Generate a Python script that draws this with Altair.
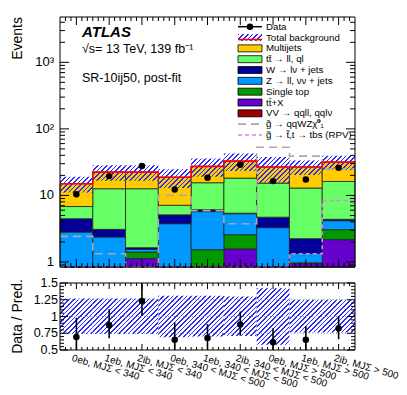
import numpy as np
import pandas as pd
import altair as alt

# ---------------- data ----------------
categories = ["0eb, MJΣ < 340", "1eb, MJΣ < 340", "2ib, MJΣ < 340",
              "0eb, 340 < MJΣ < 500", "1eb, 340 < MJΣ < 500", "2ib, 340 < MJΣ < 500",
              "0eb, MJΣ > 500", "1eb, MJΣ > 500", "2ib, MJΣ > 500"]
# stacked backgrounds, bottom -> top
vv        = [0.10, 0.05, 0.30, 0.10, 0.15, 0.30, 0.10, 0.20, 0.30]
ttx       = [0.20, 0.20, 0.82, 0.20, 0.45, 1.26, 0.25, 0.73, 1.86]
singletop = [0.30, 0.30, 0.28, 0.30, 0.92, 1.00, 0.25, 0.03, 0.89]
zjets     = [2.20, 1.81, 0.14, 3.15, 4.18, 2.74, 2.67, 0.37, 1.11]
wjets     = [1.66, 0.72, 0.09, 1.35, 0.40, 0.10, 1.43, 0.90, 0.20]
ttbar     = [2.34, 9.52, 10.97, 2.00, 9.40, 12.80, 10.60, 10.67, 11.84]
multijets = [8.20, 9.80, 9.80, 11.70, 11.80, 14.60, 11.40, 13.80, 15.40]
data_obs  = [10.4, 19.5, 27.6, 12.3, 18.5, 28.9, 16.4, 17.4, 26.1]
sig_qqwz  = [2.42, 1.33, 0.50, 10.0, 5.9, 3.75, 53.0, 39.0, 25.0]
sig_rpv   = [0.30, 0.30, 0.30, 0.30, 0.30, 0.30, 0.30, 1.33, 8.4]
unc_lo    = [0.74, 0.74, 0.74, 0.69, 0.70, 0.71, 0.58, 0.76, 0.76]
unc_hi    = [1.27, 1.27, 1.27, 1.31, 1.31, 1.30, 1.42, 1.25, 1.25]
ratio_err_lo = [0.42, 0.675, 1.01, 0.42, 0.45, 0.715, 0.40, 0.45, 0.66]
ratio_err_hi = [0.98, 1.11, 1.55, 0.91, 0.885, 1.075, 0.825, 0.86, 1.01]
y_tick_values = [1, 10, 100, 1000]
y_tick_labels = ["1", "10", "10²", "10³"]
r_tick_values = [0.5, 0.75, 1.0, 1.25, 1.5]
r_tick_labels = ["0.5", "0.75", "1", "1.25", "1.5"]

proc_names  = ["VV", "ttX", "Single top", "Z", "W", "ttbar", "Multijets"]
proc_values = [vv, ttx, singletop, zjets, wjets, ttbar, multijets]
proc_colors = ["#990000", "#6600cc", "#009900", "#0099ff", "#000099", "#66ff66", "#ffcc00"]

# ---------------- layout constants ----------------
W, H1, H2, GAP = 295, 250, 67, 16
RT = H1 + GAP          # ratio panel top (px)
RB = RT + H2           # ratio panel bottom (px)
NB = len(categories)
YMIN, YMAX = 0.84, 4800
FONT = "Liberation Sans"
HATCH = "#2a2aff"

x_scale = alt.Scale(domain=[0, NB], nice=False, zero=False, range=[0, W])
y_scale = alt.Scale(type="log", domain=[YMIN, YMAX], nice=False, range=[H1, 0], clamp=True)
r_scale = alt.Scale(domain=[0.5, 1.5], nice=False, zero=False, range=[RB, RT], clamp=True)
bin_px = W / NB
dec_px = H1 / np.log10(YMAX / YMIN)


def hatch(w, h, color=HATCH, spacing=3.3, frac=0.36):
    k = (w + h) / (w * w + h * h)
    n = max(1.0, (w + h) / (np.sqrt(2) * spacing))
    clear = "rgba(255,255,255,0)"
    stops = []
    j = 0
    while j / n < 1:
        a = j / n
        b = min(1.0, (j + frac) / n)
        c = min(1.0, (j + 1) / n)
        stops += [(a, color), (b, color), (b, clear), (c, clear)]
        j += 1
    return alt.LinearGradient(
        gradient="linear",
        stops=[alt.GradientStop(offset=round(float(o), 5), color=col) for o, col in stops],
        x1=0, y1=0, x2=float(w * k), y2=float(h * k))


# ---------------- tables ----------------
totals = np.sum(np.array(proc_values), axis=0)
rows = []
cum = np.full(NB, 0.01)
for name, vals, col in zip(proc_names, proc_values, proc_colors):
    top = cum + np.array(vals)
    for i in range(NB):
        rows.append(dict(x=i, x2=i + 1, y=cum[i], y2=top[i], color=col))
    cum = top
stack_df = pd.DataFrame(rows)

def step_df(vals):
    return pd.DataFrame({"x": list(range(NB + 1)), "y": list(vals) + [vals[-1]]})

pts_df = pd.DataFrame({"x": np.arange(NB) + 0.5, "y": data_obs,
                       "r": np.array(data_obs) / totals,
                       "lo": ratio_err_lo, "hi": ratio_err_hi})

X = lambda f="x": alt.X(f + ":Q", scale=x_scale, axis=None)
Y = lambda f="y": alt.Y(f + ":Q", scale=y_scale, axis=None)
R = lambda f="y": alt.Y(f + ":Q", scale=r_scale, axis=None)

# ---------------- main panel ----------------
stack = alt.Chart(stack_df).mark_rect(stroke="#222222", strokeWidth=0.8).encode(
    x=X(), x2="x2:Q", y=Y(), y2="y2:Q", color=alt.Color("color:N", scale=None))

main_layers = [stack]
for i in range(NB):
    lo, hi = totals[i] * unc_lo[i], totals[i] * unc_hi[i]
    hpx = dec_px * np.log10(hi / lo)
    d = pd.DataFrame({"x": [i], "x2": [i + 1], "y": [lo], "y2": [hi]})
    main_layers.append(alt.Chart(d).mark_rect(fill=hatch(bin_px, hpx)).encode(
        x=X(), x2="x2:Q", y=Y(), y2="y2:Q"))

def step_line(vals, color, width, dash=None):
    kw = dict(interpolate="step-after", color=color, strokeWidth=width)
    if dash:
        kw["strokeDash"] = dash
    return alt.Chart(step_df(vals)).mark_line(**kw).encode(x=X(), y=Y())

main_layers.append(step_line(sig_rpv, "#ee77ee", 1.6, [4, 3]))
main_layers.append(step_line(sig_qqwz, "#aaaaaa", 1.6, [8, 5]))
main_layers.append(step_line(list(totals), "#ff0000", 1.6))
main_layers.append(alt.Chart(pts_df).mark_circle(size=42, color="black", opacity=1).encode(
    x=X(), y=Y()))

# inward ticks
ymin_t = [0.9] + [m * 10 ** e for e in range(4) for m in range(2, 10) if m * 10 ** e < YMAX]
xt = [j / 6 for j in range(1, NB * 6)]
xmaj = [v for j, v in enumerate(xt, start=1) if j % 6 == 3]
xmin_t = [v for j, v in enumerate(xt, start=1) if j % 6 != 3]

def yticks(vals, length, enc):
    d = pd.DataFrame({"y": vals})
    base = alt.Chart(d).mark_rule(color="black", strokeWidth=1)
    return [base.encode(y=enc(), x=alt.value(0), x2=alt.value(length)),
            base.encode(y=enc(), x=alt.value(W - length), x2=alt.value(W))]

def xticks(vals, length, ptop, pbot):
    d = pd.DataFrame({"x": vals})
    base = alt.Chart(d).mark_rule(color="black", strokeWidth=1)
    return [base.encode(x=X(), y=alt.value(pbot), y2=alt.value(pbot - length)),
            base.encode(x=X(), y=alt.value(ptop), y2=alt.value(ptop + length))]

main_layers += yticks(y_tick_values, 9, Y) + yticks(ymin_t, 5, Y)
main_layers += xticks(xmaj, 8, 0, H1) + xticks(xmin_t, 4, 0, H1)

ylab_df = pd.DataFrame({"y": y_tick_values, "label": y_tick_labels})
main_layers.append(alt.Chart(ylab_df).mark_text(align="right", baseline="middle", dx=-6,
                                                fontSize=13, font=FONT, color="black").encode(
    y=Y(), x=alt.value(0), text="label:N"))
main_layers.append(alt.Chart(pd.DataFrame({"label": ["Events"]})).mark_text(
    angle=270, align="right", baseline="alphabetic", fontSize=14, font=FONT, color="black").encode(
    x=alt.value(-38), y=alt.value(0), text="label:N"))

main_group = alt.layer(*main_layers)

# ---------------- ratio panel ----------------
r_layers = []
for i in range(NB):
    d = pd.DataFrame({"x": [i], "x2": [i + 1], "y": [unc_lo[i]], "y2": [unc_hi[i]]})
    hpx = H2 * (unc_hi[i] - unc_lo[i])
    r_layers.append(alt.Chart(d).mark_rect(fill=hatch(bin_px, hpx)).encode(
        x=X(), x2="x2:Q", y=R(), y2="y2:Q"))

ref_df = pd.DataFrame({"y": [0.75, 1.0, 1.25]})
r_layers.append(alt.Chart(ref_df).mark_rule(color="#999999", strokeDash=[1, 2], strokeWidth=1).encode(
    y=R(), x=alt.value(0), x2=alt.value(W)))
r_layers.append(alt.Chart(pts_df).mark_rule(color="black", strokeWidth=1.6).encode(
    x=X(), y=R("lo"), y2="hi:Q"))
r_layers.append(alt.Chart(pts_df).mark_circle(size=42, color="black", opacity=1).encode(
    x=X(), y=R("r")))
r_layers += yticks(r_tick_values, 8, R)
r_layers += yticks([round(0.5 + 0.05 * k, 2) for k in range(1, 20) if k % 5 != 0], 4, R)
r_layers += xticks(xmaj, 6, RT, RB) + xticks(xmin_t, 3, RT, RB)

rlab_df = pd.DataFrame({"y": r_tick_values, "label": r_tick_labels})
r_layers.append(alt.Chart(rlab_df).mark_text(align="right", baseline="middle", dx=-2,
                                             fontSize=12.5, font=FONT, color="black").encode(
    y=R(), x=alt.value(0), text="label:N"))
r_layers.append(alt.Chart(pd.DataFrame({"label": ["Data / Pred."]})).mark_text(
    angle=270, align="center", baseline="alphabetic", fontSize=14, font=FONT, color="black").encode(
    x=alt.value(-38), y=alt.value(RT + H2 / 2), text="label:N"))
xlab_df = pd.DataFrame({"x": np.arange(NB) + 0.5, "label": categories})
r_layers.append(alt.Chart(xlab_df).mark_text(angle=16, align="left", baseline="top", dx=-3,
                                             fontSize=10, font=FONT, color="black").encode(
    x=X(), y=alt.value(RB + 4), text="label:N"))

ratio_group = alt.layer(*r_layers)

# ---------------- legend, annotations, frames (pixel positions) ----------------
leg_labels = ["Data", "Total background", "Multijets", "tt̄ → ll, ql", "W → lν + jets",
              "Z → ll, νν + jets", "Single top", "tt̄+X", "VV → qqll, qqlν",
              "g̃ → qqWZχ̃⁰₁", "g̃ → t̃,t → tbs (RPV)"]
LX0, LX1, LXT = 178, 202, 206
ly = [9.7 + 10.83 * i for i in range(len(leg_labels))]
px = alt.X("px:Q", scale=None, axis=None)
py = alt.Y("py:Q", scale=None, axis=None)

leg_txt = pd.DataFrame({"px": LXT, "py": ly, "label": leg_labels})
anno = [alt.Chart(leg_txt).mark_text(align="left", baseline="middle", fontSize=9.7, font=FONT, color="black").encode(
    x=px, y=py, text="label:N")]

box_colors = proc_colors[::-1]  # Multijets ... VV
box_df = pd.DataFrame({"px": LX0, "px2": LX1,
                       "py": [ly[2 + k] - 3.5 for k in range(7)],
                       "py2": [ly[2 + k] + 3.5 for k in range(7)],
                       "color": box_colors})
anno.append(alt.Chart(box_df).mark_rect(stroke="black", strokeWidth=0.8).encode(
    x=px, x2="px2:Q", y=py, y2="py2:Q", color=alt.Color("color:N", scale=None)))

hb = pd.DataFrame({"px": [LX0], "px2": [LX1], "py": [ly[1] - 3.5], "py2": [ly[1] + 3.5]})
anno.append(alt.Chart(hb).mark_rect(fill=hatch(LX1 - LX0, 7)).encode(x=px, x2="px2:Q", y=py, y2="py2:Q"))

def hline(yv, color, width, dash=None):
    kw = dict(color=color, strokeWidth=width)
    if dash:
        kw["strokeDash"] = dash
    d = pd.DataFrame({"px": [LX0], "px2": [LX1], "py": [yv]})
    return alt.Chart(d).mark_rule(**kw).encode(x=px, x2="px2:Q", y=py)

anno.append(hline(ly[1] + 2, "#ff0000", 1.6))
anno.append(hline(ly[0], "black", 1.5))
anno.append(alt.Chart(pd.DataFrame({"px": [(LX0 + LX1) / 2], "py": [ly[0]]})).mark_circle(
    size=42, color="black", opacity=1).encode(x=px, y=py))
anno.append(hline(ly[9], "#aaaaaa", 1.6, [8, 5]))
anno.append(hline(ly[10], "#ee77ee", 1.6, [4, 3]))

texts = [("ATLAS", 22, 20, 15, "bold", "italic"),
         ("√s= 13 TeV, 139 fb⁻¹", 22, 35.5, 12.5, "normal", "normal"),
         ("SR-10ij50, post-fit", 22, 65, 12.5, "normal", "normal")]
for t, x0, y0, fs, fw, fst in texts:
    anno.append(alt.Chart(pd.DataFrame({"px": [x0], "py": [y0], "label": [t]})).mark_text(
        align="left", baseline="alphabetic", fontSize=fs, fontWeight=fw, fontStyle=fst,
        font=FONT, color="black").encode(x=px, y=py, text="label:N"))

frames = pd.DataFrame({"px": [0, 0], "px2": [W, W], "py": [0, RT], "py2": [H1, RB]})
anno.append(alt.Chart(frames).mark_rect(fillOpacity=0, stroke="black", strokeWidth=1).encode(
    x=px, x2="px2:Q", y=py, y2="py2:Q"))

anno_group = alt.layer(*anno)

chart = alt.layer(main_group, ratio_group, anno_group).resolve_scale(
    x="independent", y="independent"
).properties(
    width=W, height=RB,
    autosize=alt.AutoSizeParams(type="none"),
    padding={"left": 52, "top": 9, "right": 44, "bottom": 45}
).configure(font=FONT).configure_view(strokeWidth=0)

chart.save("out.html", embed_options={"renderer": "svg", "actions": False})
